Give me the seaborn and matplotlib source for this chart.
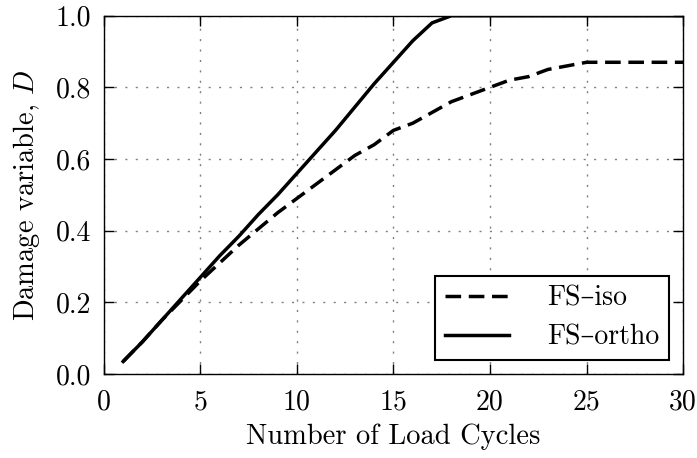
import numpy as np
import pandas as pd
import matplotlib
matplotlib.use("Agg")
import matplotlib.pyplot as plt
import seaborn as sns

cycles = list(range(1, 31))
fs_iso = [0.035, 0.09, 0.15, 0.205, 0.26, 0.31, 0.36, 0.405, 0.45, 0.49,
          0.53, 0.57, 0.61, 0.64, 0.68, 0.70, 0.73, 0.76, 0.78, 0.80,
          0.82, 0.83, 0.85, 0.86, 0.87, 0.87, 0.87, 0.87, 0.87, 0.87]
fs_ortho = [0.035, 0.09, 0.15, 0.21, 0.27, 0.33, 0.385, 0.445, 0.50, 0.56,
            0.62, 0.68, 0.745, 0.81, 0.87, 0.93, 0.98, 1.0, 1.0, 1.0,
            1.0, 1.0, 1.0, 1.0, 1.0, 1.0, 1.0, 1.0, 1.0, 1.0]
series_names = ["FS\u2013iso", "FS\u2013ortho"]
x_ticks = [0, 5, 10, 15, 20, 25, 30]
y_ticks = [0.0, 0.2, 0.4, 0.6, 0.8, 1.0]

df = pd.DataFrame({
    "cycles": cycles * 2,
    "D": fs_iso + fs_ortho,
    "series": [series_names[0]] * len(cycles) + [series_names[1]] * len(cycles),
})

plt.rcParams["font.family"] = ["cmr10", "DejaVu Serif"]
plt.rcParams["mathtext.fontset"] = "cm"
plt.rcParams["axes.formatter.use_mathtext"] = True
plt.rcParams["axes.unicode_minus"] = False

fig = plt.figure(figsize=(6.97, 4.58), dpi=100)
ax = fig.add_axes([0.149, 0.1834, 0.831, 0.7823])

sns.lineplot(data=df, x="cycles", y="D", style="series", style_order=series_names,
             dashes={series_names[0]: (4.5, 2.2), series_names[1]: ""},
             color="black", linewidth=2.5, ax=ax, legend=True)

ax.set_xlim(0, 30)
ax.set_ylim(0, 1.0)
ax.set_xticks(x_ticks)
ax.set_yticks(y_ticks)
ax.set_xticklabels([str(t) for t in x_ticks])
ax.set_yticklabels([f"{t:.1f}" for t in y_ticks])
ax.grid(True, linestyle=(0, (1.5, 6)), color="#808080", linewidth=1.0)
ax.tick_params(direction="in", top=True, right=True, length=7, width=1,
               labelsize=20)
ax.tick_params(axis="x", pad=11)
ax.tick_params(axis="y", pad=9)
for s in ax.spines.values():
    s.set_linewidth(1.0)
    s.set_color("black")
ax.set_xlabel("Number of Load Cycles", fontsize=20.5, labelpad=6)
ax.set_ylabel("Damage variable, $D$", fontsize=20.5, labelpad=10)

handles, labels = ax.get_legend_handles_labels()
leg = ax.legend(handles, labels, loc="lower right", fontsize=20, frameon=True,
                fancybox=False, framealpha=1.0, edgecolor="black",
                handlelength=2.3, handletextpad=1.4, borderpad=0.34,
                labelspacing=0.46, borderaxespad=0.5)
leg.get_frame().set_linewidth(1.5)
for line in leg.get_lines():
    line.set_linewidth(2.5)

fig.savefig("out.png", dpi=100)
